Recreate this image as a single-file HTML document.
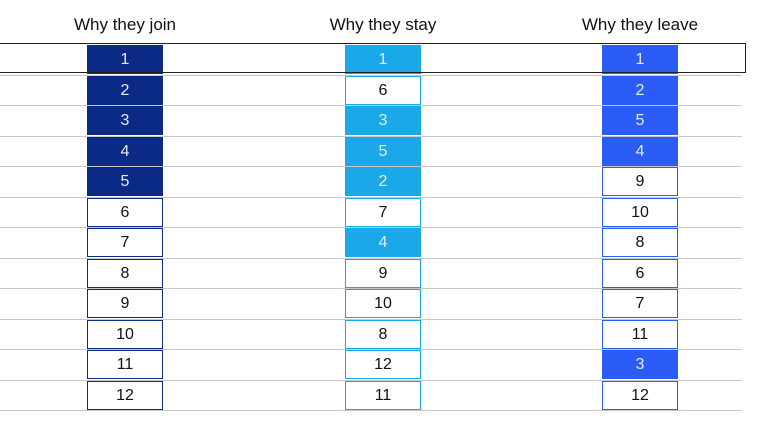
<!DOCTYPE html>
<html><head><style>
body{margin:0;width:767px;height:431px;background:#fff;position:relative;overflow:hidden;font-family:"Liberation Sans",sans-serif;}
.h{position:absolute;top:15px;font-size:17px;color:#111;text-align:center;width:200px}
.l{position:absolute;left:0;width:742px;height:1px;background:#c8c8c8}
.c{position:absolute;width:74px;height:27px;border:1px solid;box-sizing:content-box;text-align:center;line-height:27px;font-size:16px;color:#111;background:#fff}
</style></head><body>
<div class="h" style="left:25px">Why they join</div>
<div class="h" style="left:283px">Why they stay</div>
<div class="h" style="left:540px">Why they leave</div>
<div id="g"></div>
<div style="position:absolute;left:0;top:43px;width:746px;height:30px;border:1px solid #222;box-sizing:border-box;border-left:none"></div>
<script>
var g=document.getElementById('g'),h='';
for(var k=1;k<=12;k++){h+='<div class="l" style="top:'+Math.round(44+30.5*k)+'px"></div>';}
var cols=[[87,'#0b2a86',[1,2,3,4,5,6,7,8,9,10,11,12],5,[]],[345,'#1aa8e8',[1,6,3,5,2,7,4,9,10,8,12,11],0,[0,2,3,4,6]],[602,'#2b5cf6',[1,2,5,4,9,10,8,6,7,11,3,12],0,[0,1,2,3,10]]];
cols.forEach(function(c,ci){c[2].forEach(function(v,i){
var f=ci==0?i<5:c[4].indexOf(i)>=0;
var t=Math.round(45+30.5*i);
h+='<div class="c" style="left:'+c[0]+'px;top:'+t+'px;border-color:'+c[1]+';'+(f?'background:'+c[1]+';color:#e6ecff;':'')+'">'+v+'</div>';});});
g.innerHTML=h;
</script>
</body></html>
